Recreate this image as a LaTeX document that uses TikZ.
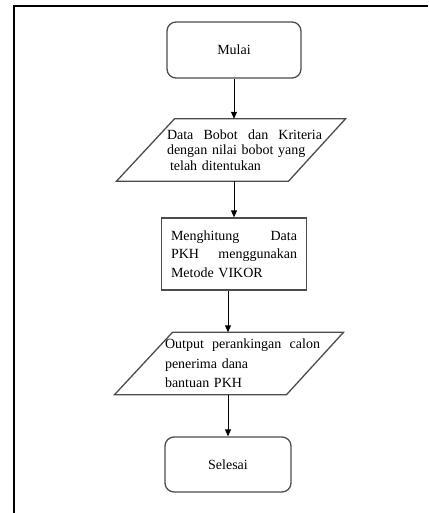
\documentclass[tikz,border=0pt]{standalone}
\usepackage{fontspec}
\setmainfont{Liberation Serif}
\usetikzlibrary{arrows.meta}
\definecolor{boxline}{gray}{0.3}
\tikzset{
  term/.style = {draw = boxline, line width = 1.3pt, rounded corners = 9pt, inner sep = 0pt},
  proc/.style = {draw = boxline, line width = 1.3pt, text width = 126pt, inner xsep = 9.5pt,
    minimum height = 72pt, align = left},
  io/.style = {text width = 155pt, inner sep = 0pt, minimum height = 62pt, align = left},
  arr/.style = {-{Triangle[length = 7pt, width = 6pt]}, line width = .9pt}
}
\newcommand{\ioshape}[1]{\draw[boxline, line width = 1.3pt] ([xshift = -70pt]#1.north)
  -- ([xshift = 101pt]#1.north) -- ([xshift = 44pt]#1.south) -- ([xshift = -128pt]#1.south) -- cycle;}
\begin{document}
\begin{tikzpicture}
      [x = 1pt, y = -1pt, font = \fontsize{14}{18.5}\selectfont]
      \useasboundingbox (0,0) rectangle (428,513);
      \draw[line width = 2.2pt] (13.8,513) -- (13.8,6.2) -- (428,6.2);
      \node[term, minimum width = 134pt, minimum height = 56pt] (mulai) at (234,50) {Mulai};
      \node[io, font = {\fontsize{14}{15.5}\selectfont}] (data) at (244.5,150)
        {\makebox[155pt]{Data\hfill Bobot\hfill dan\hfill Kriteria}\\ dengan nilai bobot yang\\ \hspace*{3pt}telah ditentukan};
      \ioshape{data}
      \node[proc] (hitung) at (234,254)
        {\makebox[126pt]{Menghitung\hfill Data}\\ \makebox[126pt]{PKH\hfill menggunakan}\\ Metode VIKOR\\[6pt]};
      \node[io, font = {\fontsize{14}{19.5}\selectfont}] (output) at (242.5,363.5)
        {\makebox[155pt]{Output\hfill perankingan\hfill calon}\\ penerima dana\\ bantuan PKH};
      \ioshape{output}
      \node[term, minimum width = 126pt, minimum height = 55pt] (selesai) at (228,464.5) {Selesai};
      \draw[arr] (mulai) -- (mulai |- data.north);
      \draw[arr] (hitung |- data.south) -- (hitung);
      \draw[arr] (selesai |- hitung.south) -- (selesai |- output.north);
      \draw[arr] (selesai |- output.south) -- (selesai);
    \end{tikzpicture}
\end{document}
